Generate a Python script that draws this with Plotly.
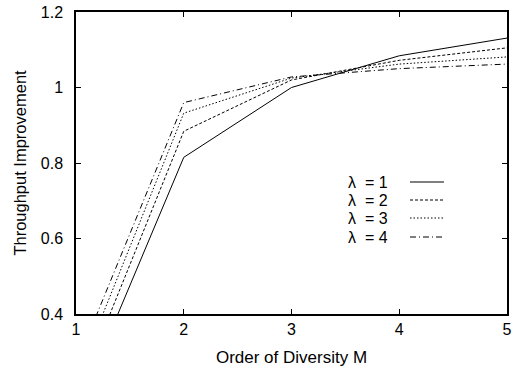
import plotly.graph_objects as go

M = [1, 2, 3, 4, 5]
lam1 = [0.136, 0.815, 1.000, 1.084, 1.131]
lam2 = [0.177, 0.884, 1.020, 1.072, 1.105]
lam3 = [0.223, 0.932, 1.025, 1.062, 1.081]
lam4 = [0.265, 0.960, 1.028, 1.050, 1.062]
series = [("λ&nbsp;&nbsp;= 1", lam1, "solid"), ("λ&nbsp;&nbsp;= 2", lam2, "3px,2px"),
          ("λ&nbsp;&nbsp;= 3", lam3, "1.5px,2px"), ("λ&nbsp;&nbsp;= 4", lam4, "6px,3px,1px,3px")]

W, H = 523, 372
L, R, T, B = 76, 16, 12, 58
pw, ph = W - L - R, H - T - B
FONT = "Liberation Sans, Arial"

fig = go.Figure()
for name, vals, dash in series:
    fig.add_trace(go.Scatter(x=M, y=vals, mode="lines", name=name,
                             line=dict(color="black", width=1, dash=dash),
                             showlegend=False))

def px_x(px):
    return (px - L) / pw

def px_y(py):
    return (H - B - py) / ph

row_y = [182, 200, 218, 237]
for (name, vals, dash), yy in zip(series, row_y):
    fig.add_annotation(x=px_x(347), y=px_y(yy), xref="paper", yref="paper",
                       text=name, showarrow=False, xanchor="left", yanchor="middle",
                       height=16, borderpad=0,
                       font=dict(size=16, color="black", family=FONT))
    fig.add_shape(type="line", xref="paper", yref="paper",
                  x0=px_x(410), x1=px_x(444), y0=px_y(yy), y1=px_y(yy),
                  line=dict(color="black", width=1, dash=dash))

axis_common = dict(showline=True, linecolor="black", linewidth=1.5, mirror="ticks",
                   ticks="inside", ticklen=5, tickwidth=1, tickcolor="black",
                   showgrid=False, zeroline=False, automargin=False,
                   tickfont=dict(size=16, color="black", family=FONT))

fig.update_xaxes(range=[1, 5], tickvals=[1, 2, 3, 4, 5], ticktext=["1", "2", "3", "4", "5"],
                 title=dict(text="Order of Diversity M", standoff=14,
                            font=dict(size=17, color="black", family=FONT)),
                 ticklabelstandoff=0, **axis_common)
fig.update_yaxes(range=[0.4, 1.2], tickvals=[0.4, 0.6, 0.8, 1.0, 1.2],
                 ticktext=["0.4", "0.6", "0.8", "1", "1.2"],
                 title=dict(text="Throughput Improvement", standoff=10,
                            font=dict(size=16.5, color="black", family=FONT)),
                 ticklabelstandoff=8, **axis_common)

fig.update_layout(width=W, height=H, margin=dict(l=L, r=R, t=T, b=B),
                  paper_bgcolor="white", plot_bgcolor="white", showlegend=False)
fig.write_html("out.html")
